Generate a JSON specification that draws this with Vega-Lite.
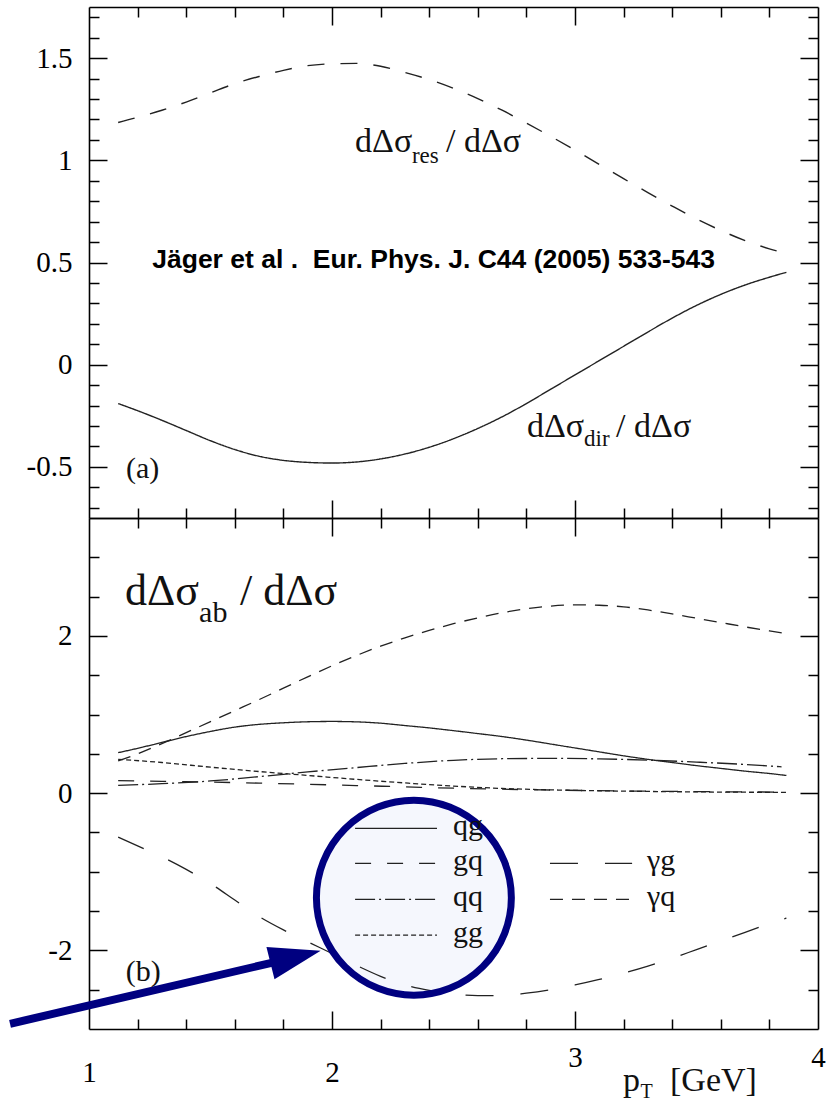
{
  "$schema": "https://vega.github.io/schema/vega-lite/v6.json",
  "background": "white",
  "padding": {"left": 0, "top": 6, "right": 0, "bottom": 0},
  "spacing": 0,
  "bounds": "flush",
  "resolve": {"scale": {"strokeDash": "independent"}},
  "config": {
    "view": {"stroke": null},
    "axis": {"grid": false, "domainColor": "#000", "domainWidth": 1.6, "tickColor": "#000", "tickWidth": 1.5, "labelFont": "Liberation Serif", "labelFontSize": 29, "labelColor": "#000", "labelFlush": false, "labelOverlap": false}
  },
  "datasets": {
    "a": [
      {"series": "res", "x": 1.12, "y": 1.185}, {"series": "res", "x": 1.2, "y": 1.21}, {"series": "res", "x": 1.3, "y": 1.245}, {"series": "res", "x": 1.4, "y": 1.285}, {"series": "res", "x": 1.5, "y": 1.33}, {"series": "res", "x": 1.6, "y": 1.375}, {"series": "res", "x": 1.7, "y": 1.41}, {"series": "res", "x": 1.8, "y": 1.44}, {"series": "res", "x": 1.9, "y": 1.463}, {"series": "res", "x": 2.0, "y": 1.472}, {"series": "res", "x": 2.1, "y": 1.474}, {"series": "res", "x": 2.2, "y": 1.46}, {"series": "res", "x": 2.3, "y": 1.43}, {"series": "res", "x": 2.4, "y": 1.395}, {"series": "res", "x": 2.5, "y": 1.352}, {"series": "res", "x": 2.6, "y": 1.302}, {"series": "res", "x": 2.7, "y": 1.245}, {"series": "res", "x": 2.8, "y": 1.182}, {"series": "res", "x": 2.9, "y": 1.117}, {"series": "res", "x": 3.0, "y": 1.05}, {"series": "res", "x": 3.1, "y": 0.98}, {"series": "res", "x": 3.2, "y": 0.91}, {"series": "res", "x": 3.3, "y": 0.842}, {"series": "res", "x": 3.4, "y": 0.776}, {"series": "res", "x": 3.5, "y": 0.713}, {"series": "res", "x": 3.6, "y": 0.657}, {"series": "res", "x": 3.7, "y": 0.607}, {"series": "res", "x": 3.8, "y": 0.567}, {"series": "res", "x": 3.87, "y": 0.545},
      {"series": "dir", "x": 1.12, "y": -0.19}, {"series": "dir", "x": 1.2, "y": -0.225}, {"series": "dir", "x": 1.3, "y": -0.272}, {"series": "dir", "x": 1.4, "y": -0.322}, {"series": "dir", "x": 1.5, "y": -0.372}, {"series": "dir", "x": 1.6, "y": -0.415}, {"series": "dir", "x": 1.7, "y": -0.448}, {"series": "dir", "x": 1.8, "y": -0.468}, {"series": "dir", "x": 1.9, "y": -0.478}, {"series": "dir", "x": 2.0, "y": -0.481}, {"series": "dir", "x": 2.1, "y": -0.476}, {"series": "dir", "x": 2.2, "y": -0.461}, {"series": "dir", "x": 2.3, "y": -0.437}, {"series": "dir", "x": 2.4, "y": -0.404}, {"series": "dir", "x": 2.5, "y": -0.362}, {"series": "dir", "x": 2.6, "y": -0.312}, {"series": "dir", "x": 2.7, "y": -0.255}, {"series": "dir", "x": 2.8, "y": -0.19}, {"series": "dir", "x": 2.9, "y": -0.12}, {"series": "dir", "x": 3.0, "y": -0.05}, {"series": "dir", "x": 3.1, "y": 0.02}, {"series": "dir", "x": 3.2, "y": 0.09}, {"series": "dir", "x": 3.3, "y": 0.16}, {"series": "dir", "x": 3.4, "y": 0.228}, {"series": "dir", "x": 3.5, "y": 0.29}, {"series": "dir", "x": 3.6, "y": 0.344}, {"series": "dir", "x": 3.7, "y": 0.39}, {"series": "dir", "x": 3.8, "y": 0.428}, {"series": "dir", "x": 3.87, "y": 0.452}
    ],
    "b": [
      {"series": "qg", "x": 1.12, "y": 0.515}, {"series": "qg", "x": 1.2, "y": 0.57}, {"series": "qg", "x": 1.3, "y": 0.645}, {"series": "qg", "x": 1.4, "y": 0.72}, {"series": "qg", "x": 1.5, "y": 0.785}, {"series": "qg", "x": 1.6, "y": 0.84}, {"series": "qg", "x": 1.7, "y": 0.875}, {"series": "qg", "x": 1.8, "y": 0.895}, {"series": "qg", "x": 1.9, "y": 0.908}, {"series": "qg", "x": 2.0, "y": 0.912}, {"series": "qg", "x": 2.1, "y": 0.907}, {"series": "qg", "x": 2.2, "y": 0.89}, {"series": "qg", "x": 2.3, "y": 0.86}, {"series": "qg", "x": 2.4, "y": 0.83}, {"series": "qg", "x": 2.5, "y": 0.795}, {"series": "qg", "x": 2.6, "y": 0.758}, {"series": "qg", "x": 2.7, "y": 0.72}, {"series": "qg", "x": 2.8, "y": 0.675}, {"series": "qg", "x": 2.9, "y": 0.625}, {"series": "qg", "x": 3.0, "y": 0.575}, {"series": "qg", "x": 3.1, "y": 0.525}, {"series": "qg", "x": 3.2, "y": 0.475}, {"series": "qg", "x": 3.3, "y": 0.43}, {"series": "qg", "x": 3.4, "y": 0.39}, {"series": "qg", "x": 3.5, "y": 0.35}, {"series": "qg", "x": 3.6, "y": 0.315}, {"series": "qg", "x": 3.7, "y": 0.28}, {"series": "qg", "x": 3.8, "y": 0.25}, {"series": "qg", "x": 3.87, "y": 0.225},
      {"series": "γq", "x": 1.12, "y": 0.41}, {"series": "γq", "x": 1.2, "y": 0.5}, {"series": "γq", "x": 1.3, "y": 0.63}, {"series": "γq", "x": 1.4, "y": 0.77}, {"series": "γq", "x": 1.5, "y": 0.91}, {"series": "γq", "x": 1.6, "y": 1.05}, {"series": "γq", "x": 1.7, "y": 1.19}, {"series": "γq", "x": 1.8, "y": 1.335}, {"series": "γq", "x": 1.9, "y": 1.48}, {"series": "γq", "x": 2.0, "y": 1.62}, {"series": "γq", "x": 2.1, "y": 1.75}, {"series": "γq", "x": 2.2, "y": 1.87}, {"series": "γq", "x": 2.3, "y": 1.975}, {"series": "γq", "x": 2.4, "y": 2.07}, {"series": "γq", "x": 2.5, "y": 2.155}, {"series": "γq", "x": 2.6, "y": 2.23}, {"series": "γq", "x": 2.7, "y": 2.295}, {"series": "γq", "x": 2.8, "y": 2.345}, {"series": "γq", "x": 2.9, "y": 2.38}, {"series": "γq", "x": 3.0, "y": 2.395}, {"series": "γq", "x": 3.1, "y": 2.39}, {"series": "γq", "x": 3.2, "y": 2.37}, {"series": "γq", "x": 3.3, "y": 2.33}, {"series": "γq", "x": 3.4, "y": 2.28}, {"series": "γq", "x": 3.5, "y": 2.225}, {"series": "γq", "x": 3.6, "y": 2.17}, {"series": "γq", "x": 3.7, "y": 2.115}, {"series": "γq", "x": 3.8, "y": 2.065}, {"series": "γq", "x": 3.87, "y": 2.03},
      {"series": "gq", "x": 1.12, "y": 0.16}, {"series": "gq", "x": 1.3, "y": 0.15}, {"series": "gq", "x": 1.5, "y": 0.14}, {"series": "gq", "x": 1.7, "y": 0.128}, {"series": "gq", "x": 1.9, "y": 0.113}, {"series": "gq", "x": 2.1, "y": 0.097}, {"series": "gq", "x": 2.3, "y": 0.08}, {"series": "gq", "x": 2.5, "y": 0.063}, {"series": "gq", "x": 2.7, "y": 0.05}, {"series": "gq", "x": 2.9, "y": 0.04}, {"series": "gq", "x": 3.1, "y": 0.031}, {"series": "gq", "x": 3.3, "y": 0.025}, {"series": "gq", "x": 3.5, "y": 0.02}, {"series": "gq", "x": 3.7, "y": 0.016}, {"series": "gq", "x": 3.87, "y": 0.013},
      {"series": "qq", "x": 1.12, "y": 0.1}, {"series": "qq", "x": 1.3, "y": 0.12}, {"series": "qq", "x": 1.5, "y": 0.155}, {"series": "qq", "x": 1.7, "y": 0.21}, {"series": "qq", "x": 1.9, "y": 0.27}, {"series": "qq", "x": 2.1, "y": 0.325}, {"series": "qq", "x": 2.3, "y": 0.378}, {"series": "qq", "x": 2.5, "y": 0.418}, {"series": "qq", "x": 2.7, "y": 0.438}, {"series": "qq", "x": 2.9, "y": 0.442}, {"series": "qq", "x": 3.1, "y": 0.436}, {"series": "qq", "x": 3.3, "y": 0.42}, {"series": "qq", "x": 3.5, "y": 0.395}, {"series": "qq", "x": 3.7, "y": 0.365}, {"series": "qq", "x": 3.85, "y": 0.335},
      {"series": "gg", "x": 1.12, "y": 0.43}, {"series": "gg", "x": 1.3, "y": 0.39}, {"series": "gg", "x": 1.5, "y": 0.33}, {"series": "gg", "x": 1.7, "y": 0.275}, {"series": "gg", "x": 1.9, "y": 0.225}, {"series": "gg", "x": 2.1, "y": 0.175}, {"series": "gg", "x": 2.3, "y": 0.13}, {"series": "gg", "x": 2.5, "y": 0.09}, {"series": "gg", "x": 2.7, "y": 0.06}, {"series": "gg", "x": 2.9, "y": 0.042}, {"series": "gg", "x": 3.1, "y": 0.03}, {"series": "gg", "x": 3.3, "y": 0.022}, {"series": "gg", "x": 3.5, "y": 0.016}, {"series": "gg", "x": 3.7, "y": 0.012}, {"series": "gg", "x": 3.87, "y": 0.01},
      {"series": "γg", "x": 1.12, "y": -0.56}, {"series": "γg", "x": 1.2, "y": -0.67}, {"series": "γg", "x": 1.3, "y": -0.81}, {"series": "γg", "x": 1.4, "y": -0.97}, {"series": "γg", "x": 1.5, "y": -1.15}, {"series": "γg", "x": 1.6, "y": -1.36}, {"series": "γg", "x": 1.7, "y": -1.57}, {"series": "γg", "x": 1.8, "y": -1.74}, {"series": "γg", "x": 1.9, "y": -1.89}, {"series": "γg", "x": 2.0, "y": -2.04}, {"series": "γg", "x": 2.1, "y": -2.19}, {"series": "γg", "x": 2.2, "y": -2.33}, {"series": "γg", "x": 2.3, "y": -2.44}, {"series": "γg", "x": 2.4, "y": -2.51}, {"series": "γg", "x": 2.5, "y": -2.555}, {"series": "γg", "x": 2.6, "y": -2.575}, {"series": "γg", "x": 2.7, "y": -2.575}, {"series": "γg", "x": 2.8, "y": -2.545}, {"series": "γg", "x": 2.9, "y": -2.5}, {"series": "γg", "x": 3.0, "y": -2.44}, {"series": "γg", "x": 3.1, "y": -2.37}, {"series": "γg", "x": 3.2, "y": -2.29}, {"series": "γg", "x": 3.3, "y": -2.2}, {"series": "γg", "x": 3.4, "y": -2.1}, {"series": "γg", "x": 3.5, "y": -1.99}, {"series": "γg", "x": 3.6, "y": -1.88}, {"series": "γg", "x": 3.7, "y": -1.77}, {"series": "γg", "x": 3.8, "y": -1.66}, {"series": "γg", "x": 3.87, "y": -1.59}
    ],
    "leg": [
      {"series": "qg", "x1": 2.095, "x2": 2.432, "y": -0.448, "lx": 2.498},
      {"series": "gq", "x1": 2.095, "x2": 2.432, "y": -0.893, "lx": 2.498},
      {"series": "qq", "x1": 2.095, "x2": 2.432, "y": -1.351, "lx": 2.498},
      {"series": "gg", "x1": 2.095, "x2": 2.432, "y": -1.805, "lx": 2.498},
      {"series": "γg", "x1": 2.897, "x2": 3.235, "y": -0.893, "lx": 3.296},
      {"series": "γq", "x1": 2.897, "x2": 3.235, "y": -1.351, "lx": 3.296}
    ],
    "circ": [{"x": 2.337, "y": -1.33}],
    "arrow": [{"x": 0.675, "y": -2.934, "x2": 1.765, "y2": -2.149}],
    "head": [{"x": 1.85, "y": -2.083}],
    "ta_main": [{"x": 2.095, "y": 1.041, "t": "dΔσ"}, {"x": 2.469, "y": 1.041, "t": "/ dΔσ"}, {"x": 2.802, "y": -0.354, "t": "dΔσ"}, {"x": 3.169, "y": -0.354, "t": "/ dΔσ"}],
    "ta_sub": [{"x": 2.329, "y": 0.987, "t": "res"}, {"x": 3.037, "y": -0.4, "t": "dir"}],
    "ta_lbl": [{"x": 1.152, "y": -0.554, "t": "(a)"}],
    "ta_ref": [{"x": 2.418, "y": 0.473, "t": "Jäger et al .\u00a0\u00a0Eur. Phys. J. C44 (2005) 533-543"}],
    "tb_main": [{"x": 1.148, "y": 2.393, "t": "dΔσ"}, {"x": 1.621, "y": 2.393, "t": "/ dΔσ"}],
    "tb_sub": [{"x": 1.453, "y": 2.181, "t": "ab"}],
    "tb_lbl": [{"x": 1.151, "y": -2.39, "t": "(b)"}],
    "tb_pt": [{"x": 3.198, "y": -3.79, "t": "p"}, {"x": 3.391, "y": -3.79, "t": "[GeV]"}],
    "tb_ptsub": [{"x": 3.27, "y": -3.875, "t": "T"}]
  },
  "vconcat": [
    {
      "width": 729,
      "height": 511,
      "resolve": {"axis": {"x": "independent", "y": "independent"}},
      "layer": [
        {
          "mark": {"type": "rule", "strokeDash": [4, 2], "strokeWidth": 1, "color": "#000"},
          "encoding": {"y": {"datum": 0, "type": "quantitative", "scale": {"domain": [-0.75, 1.75], "nice": false, "zero": false}, "axis": null}}
        },
        {
          "data": {"name": "a"},
          "mark": {"type": "line", "interpolate": "monotone", "strokeWidth": 1.4, "color": "#222"},
          "encoding": {
            "x": {"field": "x", "type": "quantitative", "scale": {"domain": [1, 4], "nice": false, "zero": false}, "axis": {"orient": "bottom", "values": [2, 3], "tickSize": -18, "tickColor": "#000", "tickWidth": 1.5, "labels": false, "domain": true, "domainColor": "#000", "domainWidth": 1.6, "title": null}},
            "y": {"field": "y", "type": "quantitative", "scale": {"domain": [-0.75, 1.75], "nice": false, "zero": false}, "axis": {"orient": "left", "values": [-0.5, 0, 0.5, 1, 1.5], "tickSize": -18, "tickColor": "#000", "tickWidth": 1.5, "labels": false, "domain": true, "domainColor": "#000", "domainWidth": 1.6, "title": null}},
            "strokeDash": {"field": "series", "type": "nominal", "scale": {"domain": ["res", "dir"], "range": [[17, 16], [1, 0]]}, "legend": null}
          }
        },
        {
          "data": {"name": "a"},
          "mark": {"type": "point", "opacity": 0},
          "encoding": {
            "x": {"field": "x", "type": "quantitative", "scale": {"domain": [1, 4], "nice": false, "zero": false}, "axis": {"orient": "bottom", "values": [1.2, 1.4, 1.6, 1.8, 2.2, 2.4, 2.6, 2.8, 3.2, 3.4, 3.6, 3.8], "tickSize": -10, "tickColor": "#000", "tickWidth": 1.5, "labels": false, "domain": false, "title": null}},
            "y": {"field": "y", "type": "quantitative", "scale": {"domain": [-0.75, 1.75], "nice": false, "zero": false}, "axis": {"orient": "left", "values": [-0.7, -0.6, -0.4, -0.3, -0.2, -0.1, 0.1, 0.2, 0.3, 0.4, 0.6, 0.7, 0.8, 0.9, 1.1, 1.2, 1.3, 1.4, 1.6, 1.7], "tickSize": -10, "tickColor": "#000", "tickWidth": 1.5, "labels": false, "domain": false, "title": null}}
          }
        },
        {
          "data": {"name": "a"},
          "mark": {"type": "point", "opacity": 0},
          "encoding": {
            "x": {"field": "x", "type": "quantitative", "scale": {"domain": [1, 4], "nice": false, "zero": false}, "axis": {"orient": "top", "values": [2, 3], "tickSize": -18, "tickColor": "#000", "tickWidth": 1.5, "labels": false, "domain": true, "domainColor": "#000", "domainWidth": 1.6, "title": null}},
            "y": {"field": "y", "type": "quantitative", "scale": {"domain": [-0.75, 1.75], "nice": false, "zero": false}, "axis": {"orient": "right", "values": [-0.5, 0, 0.5, 1, 1.5], "tickSize": -18, "tickColor": "#000", "tickWidth": 1.5, "labels": false, "domain": true, "domainColor": "#000", "domainWidth": 1.6, "title": null}}
          }
        },
        {
          "data": {"name": "a"},
          "mark": {"type": "point", "opacity": 0},
          "encoding": {
            "x": {"field": "x", "type": "quantitative", "scale": {"domain": [1, 4], "nice": false, "zero": false}, "axis": {"orient": "top", "values": [1.2, 1.4, 1.6, 1.8, 2.2, 2.4, 2.6, 2.8, 3.2, 3.4, 3.6, 3.8], "tickSize": -10, "tickColor": "#000", "tickWidth": 1.5, "labels": false, "domain": false, "title": null}},
            "y": {"field": "y", "type": "quantitative", "scale": {"domain": [-0.75, 1.75], "nice": false, "zero": false}, "axis": {"orient": "right", "values": [-0.7, -0.6, -0.4, -0.3, -0.2, -0.1, 0.1, 0.2, 0.3, 0.4, 0.6, 0.7, 0.8, 0.9, 1.1, 1.2, 1.3, 1.4, 1.6, 1.7], "tickSize": -10, "tickColor": "#000", "tickWidth": 1.5, "labels": false, "domain": false, "title": null}}
          }
        },
        {
          "data": {"name": "a"},
          "mark": {"type": "point", "opacity": 0},
          "encoding": {
            "x": {"field": "x", "type": "quantitative", "scale": {"domain": [1, 4], "nice": false, "zero": false}, "axis": null},
            "y": {"field": "y", "type": "quantitative", "scale": {"domain": [-0.75, 1.75], "nice": false, "zero": false}, "axis": {"orient": "left", "values": [-0.5, 0, 0.5, 1, 1.5], "ticks": false, "domain": false, "labelPadding": 17, "labelFont": "Liberation Serif", "labelFontSize": 29, "labelColor": "#000", "labelExpr": "'' + datum.value", "minExtent": 89, "maxExtent": 89, "title": null}}
          }
        },
        {
          "data": {"name": "ta_main"},
          "mark": {"type": "text", "align": "left", "baseline": "alphabetic", "font": "Liberation Serif", "fontSize": 34, "color": "#111"},
          "encoding": {
            "x": {"field": "x", "type": "quantitative", "scale": {"domain": [1, 4], "nice": false, "zero": false}, "axis": null},
            "y": {"field": "y", "type": "quantitative", "scale": {"domain": [-0.75, 1.75], "nice": false, "zero": false}, "axis": null},
            "text": {"field": "t"}
          }
        },
        {
          "data": {"name": "ta_sub"},
          "mark": {"type": "text", "align": "left", "baseline": "alphabetic", "font": "Liberation Serif", "fontSize": 23, "color": "#111"},
          "encoding": {
            "x": {"field": "x", "type": "quantitative", "scale": {"domain": [1, 4], "nice": false, "zero": false}, "axis": null},
            "y": {"field": "y", "type": "quantitative", "scale": {"domain": [-0.75, 1.75], "nice": false, "zero": false}, "axis": null},
            "text": {"field": "t"}
          }
        },
        {
          "data": {"name": "ta_lbl"},
          "mark": {"type": "text", "align": "left", "baseline": "alphabetic", "font": "Liberation Serif", "fontSize": 30, "color": "#111"},
          "encoding": {
            "x": {"field": "x", "type": "quantitative", "scale": {"domain": [1, 4], "nice": false, "zero": false}, "axis": null},
            "y": {"field": "y", "type": "quantitative", "scale": {"domain": [-0.75, 1.75], "nice": false, "zero": false}, "axis": null},
            "text": {"field": "t"}
          }
        },
        {
          "data": {"name": "ta_ref"},
          "mark": {"type": "text", "align": "center", "baseline": "alphabetic", "font": "Liberation Sans", "fontWeight": "bold", "fontSize": 26.5, "color": "#000"},
          "encoding": {
            "x": {"field": "x", "type": "quantitative", "scale": {"domain": [1, 4], "nice": false, "zero": false}, "axis": null},
            "y": {"field": "y", "type": "quantitative", "scale": {"domain": [-0.75, 1.75], "nice": false, "zero": false}, "axis": null},
            "text": {"field": "t"}
          }
        }
      ]
    },
    {
      "width": 729,
      "height": 511,
      "resolve": {"axis": {"x": "independent", "y": "independent"}},
      "layer": [
        {
          "data": {"name": "circ"},
          "mark": {"type": "point", "shape": "circle", "size": 38000, "filled": true, "color": "#f5f7fd", "opacity": 1, "strokeWidth": 0},
          "encoding": {
            "x": {"field": "x", "type": "quantitative", "scale": {"domain": [1, 4], "nice": false, "zero": false}, "axis": null},
            "y": {"field": "y", "type": "quantitative", "scale": {"domain": [-3, 3.5], "nice": false, "zero": false}, "axis": null}
          }
        },
        {
          "mark": {"type": "rule", "strokeWidth": 1.4, "color": "#000"},
          "encoding": {"y": {"datum": 0, "type": "quantitative", "scale": {"domain": [-3, 3.5], "nice": false, "zero": false}, "axis": null}}
        },
        {
          "data": {"name": "b"},
          "mark": {"type": "line", "interpolate": "monotone", "strokeWidth": 1.3, "color": "#222"},
          "encoding": {
            "x": {"field": "x", "type": "quantitative", "scale": {"domain": [1, 4], "nice": false, "zero": false}, "axis": {"orient": "bottom", "values": [2, 3], "tickSize": -18, "tickColor": "#000", "tickWidth": 1.5, "labels": false, "domain": true, "domainColor": "#000", "domainWidth": 1.6, "title": null}},
            "y": {"field": "y", "type": "quantitative", "scale": {"domain": [-3, 3.5], "nice": false, "zero": false}, "axis": {"orient": "left", "values": [-2, 0, 2], "tickSize": -18, "tickColor": "#000", "tickWidth": 1.5, "labels": false, "domain": true, "domainColor": "#000", "domainWidth": 1.6, "title": null}},
            "strokeDash": {"field": "series", "type": "nominal", "scale": {"domain": ["qg", "gq", "qq", "gg", "γg", "γq"], "range": [[1, 0], [16, 16], [20, 4, 2, 4], [5, 3], [28, 27], [13, 9]]}, "legend": null}
          }
        },
        {
          "data": {"name": "b"},
          "mark": {"type": "point", "opacity": 0},
          "encoding": {
            "x": {"field": "x", "type": "quantitative", "scale": {"domain": [1, 4], "nice": false, "zero": false}, "axis": {"orient": "bottom", "values": [1.2, 1.4, 1.6, 1.8, 2.2, 2.4, 2.6, 2.8, 3.2, 3.4, 3.6, 3.8], "tickSize": -10, "tickColor": "#000", "tickWidth": 1.5, "labels": false, "domain": false, "title": null}},
            "y": {"field": "y", "type": "quantitative", "scale": {"domain": [-3, 3.5], "nice": false, "zero": false}, "axis": {"orient": "left", "values": [-2.5, -1.5, -1, -0.5, 0.5, 1, 1.5, 2.5, 3], "tickSize": -10, "tickColor": "#000", "tickWidth": 1.5, "labels": false, "domain": false, "title": null}}
          }
        },
        {
          "data": {"name": "b"},
          "mark": {"type": "point", "opacity": 0},
          "encoding": {
            "x": {"field": "x", "type": "quantitative", "scale": {"domain": [1, 4], "nice": false, "zero": false}, "axis": {"orient": "top", "values": [2, 3], "tickSize": -18, "tickColor": "#000", "tickWidth": 1.5, "labels": false, "domain": true, "domainColor": "#000", "domainWidth": 1.6, "title": null}},
            "y": {"field": "y", "type": "quantitative", "scale": {"domain": [-3, 3.5], "nice": false, "zero": false}, "axis": {"orient": "right", "values": [-2, 0, 2], "tickSize": -18, "tickColor": "#000", "tickWidth": 1.5, "labels": false, "domain": true, "domainColor": "#000", "domainWidth": 1.6, "title": null}}
          }
        },
        {
          "data": {"name": "b"},
          "mark": {"type": "point", "opacity": 0},
          "encoding": {
            "x": {"field": "x", "type": "quantitative", "scale": {"domain": [1, 4], "nice": false, "zero": false}, "axis": {"orient": "top", "values": [1.2, 1.4, 1.6, 1.8, 2.2, 2.4, 2.6, 2.8, 3.2, 3.4, 3.6, 3.8], "tickSize": -10, "tickColor": "#000", "tickWidth": 1.5, "labels": false, "domain": false, "title": null}},
            "y": {"field": "y", "type": "quantitative", "scale": {"domain": [-3, 3.5], "nice": false, "zero": false}, "axis": {"orient": "right", "values": [-2.5, -1.5, -1, -0.5, 0.5, 1, 1.5, 2.5, 3], "tickSize": -10, "tickColor": "#000", "tickWidth": 1.5, "labels": false, "domain": false, "title": null}}
          }
        },
        {
          "data": {"name": "b"},
          "mark": {"type": "point", "opacity": 0},
          "encoding": {
            "x": {"field": "x", "type": "quantitative", "scale": {"domain": [1, 4], "nice": false, "zero": false}, "axis": {"orient": "bottom", "values": [1, 2, 3, 4], "ticks": false, "domain": false, "labelPadding": {"condition": {"test": "datum.value >= 3", "value": 14}, "value": 29}, "labelFont": "Liberation Serif", "labelFontSize": 29, "labelColor": "#000", "labelExpr": "'' + datum.value", "title": null}},
            "y": {"field": "y", "type": "quantitative", "scale": {"domain": [-3, 3.5], "nice": false, "zero": false}, "axis": {"orient": "left", "values": [-2, 0, 2], "ticks": false, "domain": false, "labelPadding": 17, "labelFont": "Liberation Serif", "labelFontSize": 29, "labelColor": "#000", "labelExpr": "'' + datum.value", "minExtent": 89, "maxExtent": 89, "title": null}}
          }
        },
        {
          "data": {"name": "circ"},
          "mark": {"type": "point", "shape": "circle", "size": 38000, "filled": false, "color": "#000080", "strokeWidth": 7, "opacity": 1},
          "encoding": {
            "x": {"field": "x", "type": "quantitative", "scale": {"domain": [1, 4], "nice": false, "zero": false}, "axis": null},
            "y": {"field": "y", "type": "quantitative", "scale": {"domain": [-3, 3.5], "nice": false, "zero": false}, "axis": null}
          }
        },
        {
          "data": {"name": "leg"},
          "mark": {"type": "rule", "strokeWidth": 1.3, "color": "#222"},
          "encoding": {
            "x": {"field": "x1", "type": "quantitative", "scale": {"domain": [1, 4], "nice": false, "zero": false}, "axis": null},
            "x2": {"field": "x2"},
            "y": {"field": "y", "type": "quantitative", "scale": {"domain": [-3, 3.5], "nice": false, "zero": false}, "axis": null},
            "strokeDash": {"field": "series", "type": "nominal", "scale": {"domain": ["qg", "gq", "qq", "gg", "γg", "γq"], "range": [[1, 0], [16, 16], [20, 4, 2, 4], [5, 3], [28, 27], [13, 9]]}, "legend": null}
          }
        },
        {
          "data": {"name": "leg"},
          "mark": {"type": "text", "align": "left", "baseline": "middle", "dy": -2, "font": "Liberation Serif", "fontSize": 30, "color": "#111"},
          "encoding": {
            "x": {"field": "lx", "type": "quantitative", "scale": {"domain": [1, 4], "nice": false, "zero": false}, "axis": null},
            "y": {"field": "y", "type": "quantitative", "scale": {"domain": [-3, 3.5], "nice": false, "zero": false}, "axis": null},
            "text": {"field": "series"}
          }
        },
        {
          "data": {"name": "arrow"},
          "mark": {"type": "rule", "strokeWidth": 8, "color": "#000080", "strokeCap": "butt"},
          "encoding": {
            "x": {"field": "x", "type": "quantitative", "scale": {"domain": [1, 4], "nice": false, "zero": false}, "axis": null},
            "y": {"field": "y", "type": "quantitative", "scale": {"domain": [-3, 3.5], "nice": false, "zero": false}, "axis": null},
            "x2": {"field": "x2"},
            "y2": {"field": "y2"}
          }
        },
        {
          "data": {"name": "head"},
          "mark": {"type": "point", "shape": "M1,0L-1,-0.646L-1,0.646Z", "size": 2673, "filled": true, "color": "#000080", "angle": 346, "opacity": 1},
          "encoding": {
            "x": {"field": "x", "type": "quantitative", "scale": {"domain": [1, 4], "nice": false, "zero": false}, "axis": null},
            "y": {"field": "y", "type": "quantitative", "scale": {"domain": [-3, 3.5], "nice": false, "zero": false}, "axis": null}
          }
        },
        {
          "data": {"name": "tb_main"},
          "mark": {"type": "text", "align": "left", "baseline": "alphabetic", "font": "Liberation Serif", "fontSize": 44, "color": "#111"},
          "encoding": {
            "x": {"field": "x", "type": "quantitative", "scale": {"domain": [1, 4], "nice": false, "zero": false}, "axis": null},
            "y": {"field": "y", "type": "quantitative", "scale": {"domain": [-3, 3.5], "nice": false, "zero": false}, "axis": null},
            "text": {"field": "t"}
          }
        },
        {
          "data": {"name": "tb_sub"},
          "mark": {"type": "text", "align": "left", "baseline": "alphabetic", "font": "Liberation Serif", "fontSize": 30, "color": "#111"},
          "encoding": {
            "x": {"field": "x", "type": "quantitative", "scale": {"domain": [1, 4], "nice": false, "zero": false}, "axis": null},
            "y": {"field": "y", "type": "quantitative", "scale": {"domain": [-3, 3.5], "nice": false, "zero": false}, "axis": null},
            "text": {"field": "t"}
          }
        },
        {
          "data": {"name": "tb_lbl"},
          "mark": {"type": "text", "align": "left", "baseline": "alphabetic", "font": "Liberation Serif", "fontSize": 30, "color": "#111"},
          "encoding": {
            "x": {"field": "x", "type": "quantitative", "scale": {"domain": [1, 4], "nice": false, "zero": false}, "axis": null},
            "y": {"field": "y", "type": "quantitative", "scale": {"domain": [-3, 3.5], "nice": false, "zero": false}, "axis": null},
            "text": {"field": "t"}
          }
        },
        {
          "data": {"name": "tb_pt"},
          "mark": {"type": "text", "align": "left", "baseline": "alphabetic", "font": "Liberation Serif", "fontSize": 34, "color": "#111"},
          "encoding": {
            "x": {"field": "x", "type": "quantitative", "scale": {"domain": [1, 4], "nice": false, "zero": false}, "axis": null},
            "y": {"field": "y", "type": "quantitative", "scale": {"domain": [-3, 3.5], "nice": false, "zero": false}, "axis": null},
            "text": {"field": "t"}
          }
        },
        {
          "data": {"name": "tb_ptsub"},
          "mark": {"type": "text", "align": "left", "baseline": "alphabetic", "font": "Liberation Serif", "fontSize": 20, "color": "#111"},
          "encoding": {
            "x": {"field": "x", "type": "quantitative", "scale": {"domain": [1, 4], "nice": false, "zero": false}, "axis": null},
            "y": {"field": "y", "type": "quantitative", "scale": {"domain": [-3, 3.5], "nice": false, "zero": false}, "axis": null},
            "text": {"field": "t"}
          }
        }
      ]
    }
  ]
}
